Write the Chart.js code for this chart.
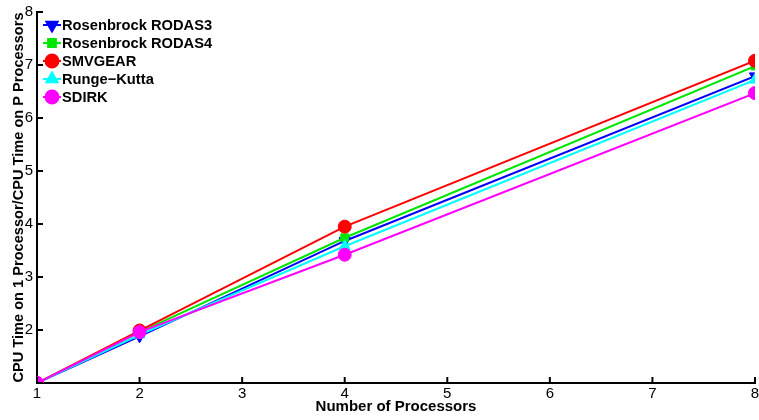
<!DOCTYPE html>
<html>
<head>
<meta charset="utf-8">
<script src="https://cdn.jsdelivr.net/npm/chart.js@4"></script>
<style>
  body { margin: 0; background: #fff; }
  #wrap { width: 759px; height: 420px; }
</style>
</head>
<body>
<div id="wrap"><canvas id="speedupChart"></canvas></div>
<script>
const processors = [1, 2, 4, 8];
const seriesNames = ['Rosenbrock RODAS3', 'Rosenbrock RODAS4', 'SMVGEAR', 'Runge\u2212Kutta', 'SDIRK'];
const rodas3 = [1, 1.88, 3.68, 6.79];
const rodas4 = [1, 1.96, 3.74, 6.98];
const smvgear = [1, 1.99, 3.95, 7.08];
const rungeKutta = [1, 1.91, 3.58, 6.72];
const sdirk = [1, 1.96, 3.42, 6.47];
const xTicks = [1, 2, 3, 4, 5, 6, 7, 8];
const yTicks = [1, 2, 3, 4, 5, 6, 7, 8];
const yTickLabels = ['', '2', '3', '4', '5', '6', '7', '8'];

const colors = ['rgb(0,0,255)', 'rgb(0,230,0)', 'rgb(255,0,0)', 'rgb(0,255,255)', 'rgb(255,0,255)'];
const shapes = ['triangle', 'rect', 'circle', 'triangle', 'circle'];
const rotations = [180, 0, 0, 0, 0];
const allValues = [rodas3, rodas4, smvgear, rungeKutta, sdirk];
const FONT = '"Liberation Sans", Arial, sans-serif';

const datasets = allValues.map((vals, i) => ({
    label: seriesNames[i],
    data: vals.map((v, j) => ({ x: processors[j], y: v })),
    borderColor: colors[i],
    backgroundColor: colors[i],
    borderWidth: 2,
    pointStyle: shapes[i],
    pointRotation: rotations[i],
    pointRadius: shapes[i] === 'rect' ? 5.5 : 6.5,
    pointBorderWidth: 1,
    tension: 0,
    order: allValues.length - i
}));

// inward ticks and legend inside the plot, matlab style
const extras = {
    id: 'extras',
    afterDraw(chart) {
        const ctx = chart.ctx;
        const xs = chart.scales.x, ys = chart.scales.y;
        const area = chart.chartArea;
        ctx.save();
        ctx.strokeStyle = '#000';
        ctx.lineWidth = 2;
        xTicks.forEach(t => {
            const px = xs.getPixelForValue(t);
            ctx.beginPath();
            ctx.moveTo(px, area.bottom);
            ctx.lineTo(px, area.bottom - 6);
            ctx.stroke();
        });
        yTicks.forEach(t => {
            const py = ys.getPixelForValue(t);
            ctx.beginPath();
            ctx.moveTo(area.left, py);
            ctx.lineTo(area.left + 6, py);
            ctx.stroke();
        });
        // legend
        ctx.font = 'bold 14.7px ' + FONT;
        ctx.textBaseline = 'middle';
        seriesNames.forEach((name, i) => {
            const y = area.top + 13 + i * 18;
            const cx = area.left + 15;
            ctx.strokeStyle = colors[i];
            ctx.lineWidth = 2;
            ctx.beginPath();
            ctx.moveTo(cx - 9, y);
            ctx.lineTo(cx + 9, y);
            ctx.stroke();
            ctx.fillStyle = colors[i];
            Chart.helpers.drawPoint(ctx, {
                pointStyle: shapes[i],
                rotation: rotations[i],
                radius: shapes[i] === 'rect' ? 5.5 : 6.5,
                borderWidth: 1
            }, cx, y);
            ctx.fill();
            ctx.fillStyle = '#000';
            ctx.fillText(name, cx + 10, y + 1);
        });
        ctx.restore();
    }
};

new Chart(document.getElementById('speedupChart'), {
    type: 'line',
    data: { datasets: datasets },
    options: {
        responsive: true,
        maintainAspectRatio: false,
        animation: false,
        layout: { autoPadding: false, padding: { left: 10, right: 4, top: 12, bottom: 0 } },
        plugins: {
            legend: { display: false },
            tooltip: { enabled: false }
        },
        scales: {
            x: {
                type: 'linear',
                min: 1,
                max: 8,
                afterBuildTicks: s => { s.ticks = xTicks.map(v => ({ value: v })); },
                grid: { drawOnChartArea: false, drawTicks: false },
                border: { color: '#000', width: 2 },
                ticks: { color: '#000', padding: 2, font: { family: FONT, size: 15 } },
                title: {
                    display: true,
                    text: 'Number of Processors',
                    color: '#000',
                    padding: { top: 0, bottom: 4 },
                    font: { family: FONT, size: 15, weight: 'bold' }
                },
                afterFit: s => { s.height = 37; s.paddingLeft = 0; s.paddingRight = 0; }
            },
            y: {
                type: 'linear',
                min: 1,
                max: 8,
                afterBuildTicks: s => { s.ticks = yTicks.map(v => ({ value: v })); },
                grid: { drawOnChartArea: false, drawTicks: false },
                border: { color: '#000', width: 2 },
                ticks: {
                    color: '#000',
                    padding: 4,
                    font: { family: FONT, size: 15 },
                    callback: (v, i) => yTickLabels[i]
                },
                title: {
                    display: true,
                    text: 'CPU Time on 1 Processor/CPU Time on P Processors',
                    color: '#000',
                    padding: { top: 0, bottom: 0 },
                    font: { family: FONT, size: 14.6, weight: 'bold' }
                },
                afterFit: s => { s.width = 27; s.paddingTop = 0; s.paddingBottom = 0; }
            }
        }
    },
    plugins: [extras]
});
</script>
</body>
</html>
